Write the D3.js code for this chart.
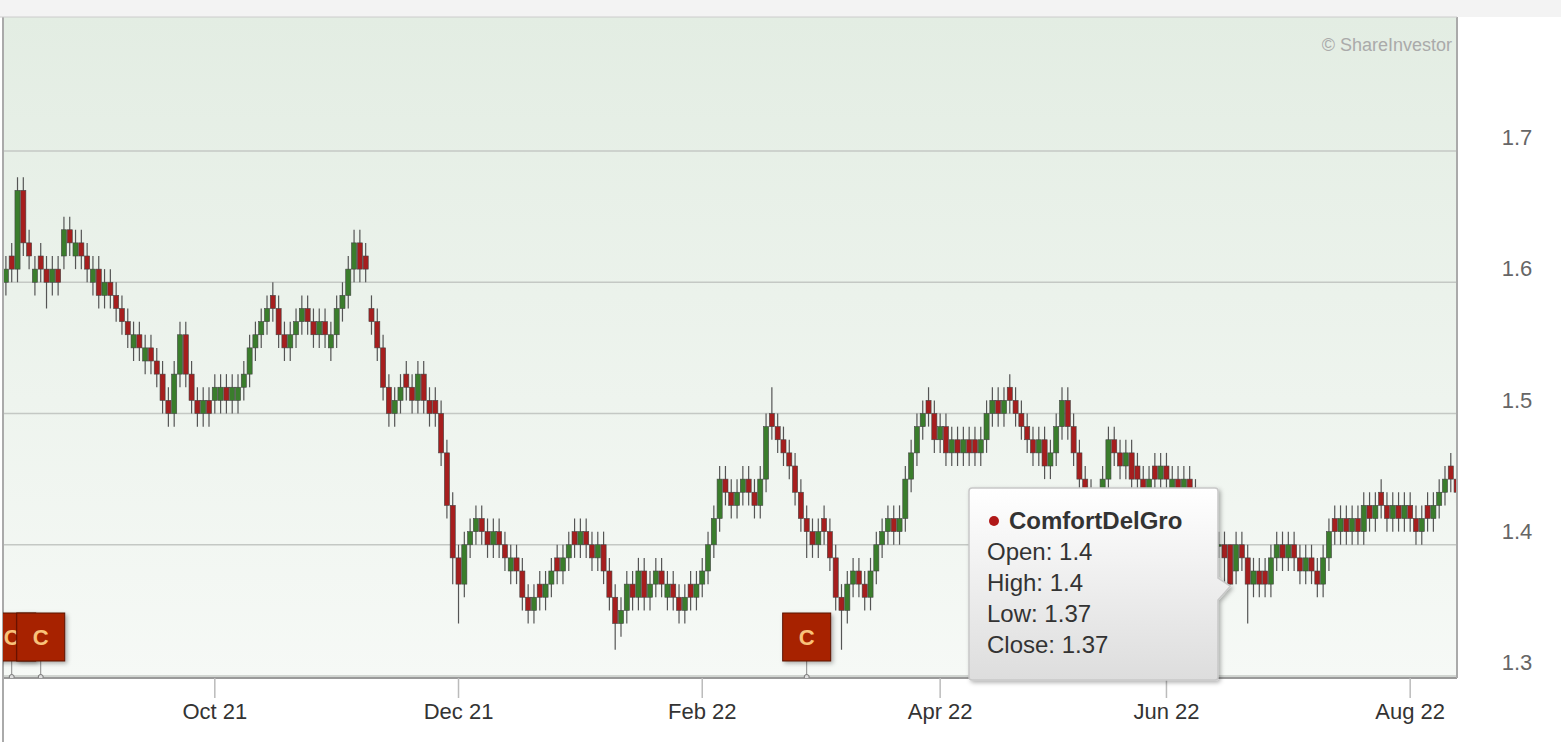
<!DOCTYPE html>
<html><head><meta charset="utf-8">
<script src="https://cdn.jsdelivr.net/npm/d3@7"></script>
<style>body{margin:0;background:#fff;}svg{display:block;font-family:"Liberation Sans",Arial,sans-serif;}</style>
</head><body><svg id="c" width="1561" height="742"></svg>
<script>
const opens=[1.60,1.62,1.61,1.67,1.63,1.60,1.62,1.61,1.60,1.61,1.62,1.64,1.62,1.63,1.62,1.60,1.61,1.59,1.60,1.59,1.58,1.57,1.55,1.56,1.54,1.55,1.54,1.53,1.51,1.50,1.53,1.56,1.53,1.51,1.50,1.51,1.51,1.51,1.52,1.51,1.51,1.52,1.53,1.55,1.56,1.57,1.59,1.58,1.56,1.55,1.56,1.57,1.58,1.57,1.56,1.57,1.55,1.56,1.58,1.59,1.61,1.63,1.62,1.58,1.57,1.55,1.52,1.50,1.51,1.53,1.52,1.51,1.53,1.51,1.51,1.50,1.47,1.43,1.39,1.37,1.40,1.41,1.42,1.41,1.40,1.41,1.40,1.38,1.39,1.38,1.36,1.35,1.37,1.36,1.37,1.39,1.38,1.39,1.41,1.40,1.41,1.40,1.39,1.40,1.38,1.36,1.34,1.35,1.37,1.36,1.38,1.36,1.37,1.38,1.36,1.37,1.36,1.35,1.37,1.36,1.37,1.38,1.40,1.42,1.45,1.44,1.43,1.44,1.45,1.44,1.43,1.45,1.50,1.49,1.48,1.47,1.46,1.44,1.42,1.41,1.40,1.42,1.41,1.39,1.36,1.35,1.37,1.38,1.37,1.36,1.38,1.40,1.41,1.42,1.41,1.42,1.45,1.47,1.49,1.51,1.50,1.48,1.49,1.47,1.48,1.47,1.48,1.48,1.47,1.48,1.50,1.51,1.50,1.52,1.51,1.50,1.49,1.48,1.47,1.48,1.46,1.47,1.49,1.51,1.49,1.47,1.45,1.44,1.43,1.42,1.45,1.48,1.47,1.46,1.47,1.46,1.45,1.44,1.46,1.45,1.46,1.44,1.45,1.44,1.45,1.44,1.43,1.42,1.41,1.40,1.40,1.40,1.38,1.40,1.39,1.37,1.38,1.38,1.37,1.39,1.40,1.39,1.40,1.39,1.38,1.39,1.38,1.37,1.39,1.42,1.41,1.42,1.41,1.42,1.41,1.43,1.42,1.44,1.43,1.42,1.43,1.42,1.43,1.42,1.41,1.43,1.42,1.43,1.44,1.46,1.45];
const highs=[1.62,1.63,1.68,1.68,1.64,1.62,1.63,1.62,1.62,1.62,1.65,1.65,1.64,1.64,1.63,1.62,1.62,1.61,1.61,1.60,1.59,1.58,1.57,1.57,1.56,1.56,1.55,1.54,1.52,1.54,1.57,1.57,1.54,1.52,1.52,1.52,1.53,1.53,1.53,1.53,1.53,1.54,1.56,1.57,1.58,1.59,1.60,1.59,1.57,1.57,1.58,1.59,1.59,1.58,1.58,1.58,1.57,1.59,1.60,1.62,1.64,1.64,1.63,1.59,1.58,1.56,1.53,1.52,1.53,1.54,1.53,1.54,1.54,1.52,1.52,1.51,1.48,1.44,1.40,1.41,1.42,1.43,1.43,1.42,1.42,1.42,1.41,1.40,1.40,1.39,1.37,1.37,1.38,1.38,1.39,1.40,1.40,1.41,1.42,1.42,1.42,1.41,1.41,1.41,1.39,1.37,1.36,1.38,1.38,1.39,1.39,1.38,1.39,1.39,1.38,1.38,1.37,1.37,1.38,1.38,1.39,1.41,1.43,1.46,1.46,1.45,1.45,1.46,1.46,1.45,1.46,1.50,1.52,1.50,1.49,1.48,1.47,1.45,1.43,1.42,1.42,1.43,1.42,1.40,1.37,1.38,1.39,1.39,1.38,1.39,1.41,1.42,1.43,1.43,1.43,1.46,1.48,1.50,1.51,1.52,1.51,1.50,1.50,1.49,1.49,1.49,1.49,1.49,1.49,1.51,1.52,1.52,1.52,1.53,1.52,1.51,1.50,1.49,1.49,1.49,1.48,1.50,1.52,1.52,1.50,1.48,1.46,1.45,1.44,1.46,1.49,1.49,1.48,1.48,1.48,1.47,1.46,1.46,1.47,1.47,1.47,1.46,1.46,1.46,1.46,1.45,1.44,1.43,1.42,1.41,1.41,1.40,1.41,1.41,1.40,1.39,1.39,1.39,1.40,1.41,1.41,1.41,1.41,1.40,1.40,1.40,1.39,1.40,1.42,1.43,1.43,1.43,1.43,1.43,1.44,1.44,1.44,1.45,1.44,1.44,1.44,1.44,1.44,1.43,1.43,1.44,1.44,1.45,1.46,1.47,1.46];
const lows=[1.59,1.60,1.60,1.62,1.61,1.59,1.60,1.58,1.59,1.59,1.61,1.62,1.61,1.61,1.60,1.59,1.58,1.58,1.58,1.57,1.56,1.55,1.54,1.54,1.53,1.53,1.52,1.50,1.49,1.49,1.52,1.52,1.50,1.49,1.49,1.49,1.50,1.50,1.50,1.50,1.50,1.51,1.52,1.54,1.55,1.56,1.57,1.55,1.54,1.54,1.55,1.56,1.56,1.55,1.55,1.55,1.54,1.55,1.57,1.58,1.60,1.60,1.60,1.56,1.54,1.51,1.49,1.49,1.50,1.51,1.50,1.50,1.50,1.49,1.49,1.46,1.42,1.37,1.34,1.36,1.39,1.40,1.40,1.39,1.39,1.39,1.38,1.37,1.37,1.35,1.34,1.34,1.35,1.35,1.36,1.37,1.37,1.38,1.39,1.39,1.39,1.38,1.38,1.37,1.35,1.32,1.33,1.34,1.35,1.35,1.35,1.35,1.36,1.36,1.35,1.35,1.34,1.34,1.35,1.35,1.36,1.37,1.39,1.41,1.43,1.42,1.42,1.43,1.43,1.42,1.42,1.44,1.48,1.47,1.46,1.45,1.43,1.41,1.39,1.39,1.39,1.40,1.38,1.35,1.32,1.34,1.36,1.36,1.35,1.35,1.37,1.39,1.40,1.40,1.40,1.41,1.44,1.46,1.48,1.49,1.47,1.47,1.46,1.46,1.46,1.46,1.46,1.46,1.46,1.47,1.49,1.49,1.49,1.50,1.49,1.48,1.47,1.46,1.46,1.45,1.45,1.46,1.48,1.48,1.46,1.44,1.43,1.42,1.41,1.41,1.44,1.46,1.45,1.45,1.44,1.44,1.43,1.43,1.44,1.44,1.44,1.43,1.43,1.43,1.43,1.42,1.41,1.40,1.39,1.39,1.37,1.37,1.37,1.38,1.34,1.36,1.36,1.36,1.36,1.38,1.38,1.38,1.38,1.37,1.37,1.37,1.36,1.36,1.38,1.40,1.40,1.40,1.40,1.40,1.40,1.41,1.41,1.42,1.41,1.41,1.41,1.41,1.41,1.40,1.40,1.41,1.41,1.42,1.43,1.44,1.43];
const closes=[1.61,1.61,1.67,1.63,1.62,1.61,1.61,1.60,1.61,1.60,1.64,1.63,1.63,1.62,1.61,1.61,1.59,1.60,1.59,1.58,1.57,1.56,1.56,1.55,1.55,1.54,1.53,1.51,1.50,1.53,1.56,1.53,1.51,1.50,1.51,1.50,1.52,1.52,1.51,1.52,1.52,1.53,1.55,1.56,1.57,1.58,1.58,1.56,1.55,1.56,1.57,1.58,1.57,1.56,1.57,1.56,1.56,1.58,1.59,1.61,1.63,1.61,1.61,1.57,1.55,1.52,1.50,1.51,1.52,1.52,1.51,1.53,1.51,1.50,1.50,1.47,1.43,1.39,1.37,1.40,1.41,1.42,1.41,1.40,1.41,1.40,1.39,1.39,1.38,1.36,1.35,1.36,1.36,1.37,1.38,1.38,1.39,1.40,1.40,1.41,1.40,1.39,1.40,1.38,1.36,1.34,1.35,1.37,1.36,1.38,1.36,1.37,1.38,1.37,1.37,1.36,1.35,1.36,1.36,1.37,1.38,1.40,1.42,1.45,1.44,1.43,1.44,1.45,1.44,1.43,1.45,1.49,1.49,1.48,1.47,1.46,1.44,1.42,1.41,1.40,1.41,1.41,1.39,1.36,1.35,1.37,1.38,1.37,1.36,1.38,1.40,1.41,1.42,1.41,1.42,1.45,1.47,1.49,1.50,1.50,1.48,1.49,1.47,1.48,1.47,1.48,1.47,1.47,1.48,1.50,1.51,1.50,1.51,1.51,1.50,1.49,1.48,1.47,1.48,1.46,1.47,1.49,1.51,1.49,1.47,1.45,1.44,1.43,1.42,1.45,1.48,1.47,1.46,1.47,1.45,1.45,1.44,1.45,1.45,1.46,1.45,1.45,1.44,1.45,1.44,1.43,1.42,1.41,1.40,1.40,1.39,1.37,1.40,1.39,1.37,1.38,1.37,1.37,1.39,1.40,1.39,1.40,1.39,1.38,1.39,1.38,1.37,1.39,1.41,1.41,1.42,1.41,1.42,1.41,1.43,1.42,1.43,1.43,1.42,1.43,1.42,1.43,1.42,1.41,1.42,1.42,1.43,1.44,1.45,1.45,1.44];
const holidays=["2021-11-04","2021-12-27","2022-01-31","2022-02-01","2022-02-02","2022-04-15","2022-05-02","2022-05-03","2022-05-16","2022-07-11","2022-08-09"];
const startDate="2021-08-12";
const yTicks=[1.3,1.4,1.5,1.6,1.7];
const monthTicks=["2021-10","2021-12","2022-02","2022-04","2022-06","2022-08"];
const monthLabels=["Oct 21","Dec 21","Feb 22","Apr 22","Jun 22","Aug 22"];
const flagIdx=[1,6,138];
const tipIdx=211;
const seriesName="ComfortDelGro";

// trading dates
const fmt=d3.timeFormat("%Y-%m-%d");
const dates=[];let d=new Date(startDate+"T12:00:00");
while(dates.length<closes.length){const w=d.getDay();if(w>0&&w<6&&!holidays.includes(fmt(d)))dates.push(fmt(d));d=d3.timeDay.offset(d,1);}
const data=dates.map((dt,i)=>({dt,i,o:opens[i],h:highs[i],l:lows[i],c:closes[i]}));
data[tipIdx].o=1.40;data[tipIdx].h=1.40;data[tipIdx].l=1.37;data[tipIdx].c=1.37;

const svg=d3.select("#c");
const L=3,R=1457,T=17,B=678;
const x=d3.scaleBand().domain(dates).range([L,L+dates.length*5.8]).paddingInner(0.12);
const y=d3.scaleLinear().domain([1.3,1.7]).range([676,151]);
const defs=svg.append("defs");
const g1=defs.append("linearGradient").attr("id","bg").attr("x1",0).attr("x2",0).attr("y1",0).attr("y2",1);
g1.append("stop").attr("offset",0).attr("stop-color","#e3ede3");g1.append("stop").attr("offset",1).attr("stop-color","#f6f9f6");
const g2=defs.append("linearGradient").attr("id","tip").attr("x1",0).attr("x2",0).attr("y1",0).attr("y2",1);
g2.append("stop").attr("offset",0).attr("stop-color","#ffffff");g2.append("stop").attr("offset",1).attr("stop-color","#dddddd");
const f=defs.append("filter").attr("id","sh").attr("x","-20%").attr("y","-20%").attr("width","150%").attr("height","150%");
f.append("feDropShadow").attr("dx",2).attr("dy",2).attr("stdDeviation",2).attr("flood-color","#000").attr("flood-opacity",0.3);
const clip=defs.append("clipPath").attr("id","pc");clip.append("rect").attr("x",L).attr("y",T).attr("width",R-L).attr("height",B-T);

svg.append("rect").attr("x",0).attr("y",0).attr("width",1561).attr("height",742).attr("fill","#fff");
svg.append("rect").attr("x",0).attr("y",0).attr("width",1561).attr("height",T).attr("fill","#f3f3f3");
svg.append("rect").attr("x",L).attr("y",T).attr("width",R-L).attr("height",B-T).attr("fill","url(#bg)");
svg.append("g").selectAll("line").data(yTicks).join("line").attr("x1",L).attr("x2",R).attr("y1",d=>y(d)).attr("y2",d=>y(d)).attr("stroke","#c4c8c4").attr("stroke-width",1.5);
svg.append("g").selectAll("text").data(yTicks).join("text").attr("x",1517).attr("y",d=>y(d)-6).attr("text-anchor","middle").attr("font-size",22).attr("fill","#666").text(d=>d.toFixed(1));
svg.append("text").attr("x",1452).attr("y",51).attr("text-anchor","end").attr("font-size",18).attr("fill","#aaa").text("© ShareInvestor");

const plot=svg.append("g").attr("clip-path","url(#pc)");
const bw=x.bandwidth(),cx=d=>x(d.dt)+x.step()/2;
const cg=plot.selectAll("g.c").data(data).join("g");
cg.append("line").attr("x1",cx).attr("x2",cx).attr("y1",d=>y(d.h)).attr("y2",d=>y(d.l)).attr("stroke","#555").attr("stroke-width",1.2);
cg.append("rect").attr("x",d=>cx(d)-bw/2).attr("width",bw).attr("y",d=>y(Math.max(d.o,d.c))).attr("height",d=>Math.max(1.5,Math.abs(y(d.o)-y(d.c))))
 .attr("fill",d=>d.c>=d.o?"#3a7d2c":"#a61e1e").attr("stroke","#444").attr("stroke-width",0.6);

// axes
svg.append("line").attr("x1",L).attr("x2",R).attr("y1",B).attr("y2",B).attr("stroke","#999").attr("stroke-width",2);
svg.append("line").attr("x1",L).attr("x2",L).attr("y1",T).attr("y2",742).attr("stroke","#aaa").attr("stroke-width",2);
svg.append("line").attr("x1",R).attr("x2",R).attr("y1",T).attr("y2",B).attr("stroke","#aaa").attr("stroke-width",2);
svg.append("line").attr("x1",0).attr("x2",R).attr("y1",T).attr("y2",T).attr("stroke","#ccc").attr("stroke-width",1);
const mt=monthTicks.map((m,k)=>({d:dates.find(s=>s.startsWith(m)),lab:monthLabels[k]}));
const xa=svg.append("g");
xa.selectAll("line").data(mt).join("line").attr("x1",d=>x(d.d)+x.step()/2).attr("x2",d=>x(d.d)+x.step()/2).attr("y1",B).attr("y2",698).attr("stroke","#bbb").attr("stroke-width",1.5);
xa.selectAll("text").data(mt).join("text").attr("x",d=>x(d.d)+x.step()/2).attr("y",719).attr("text-anchor","middle").attr("font-size",22).attr("fill","#333").text(d=>d.lab);

// flags
const fg=svg.append("g").attr("clip-path","url(#pc)");
flagIdx.forEach(i=>{const px=cx(data[i]);const g=fg.append("g");
 g.append("line").attr("x1",px).attr("x2",px).attr("y1",661).attr("y2",677).attr("stroke","#888");
 g.append("circle").attr("cx",px).attr("cy",677).attr("r",2.5).attr("fill","#ddd").attr("stroke","#777");
 g.append("rect").attr("x",px-24).attr("y",613).attr("width",48).attr("height",48).attr("fill","#a72403").attr("stroke","#5a1200").attr("filter","url(#sh)");
 g.append("text").attr("x",px).attr("y",645).attr("text-anchor","middle").attr("font-size",22).attr("font-weight","bold").attr("fill","#f9c27a").text("C");});

// tooltip
const td=data[tipIdx],tx=cx(td);
const tg=svg.append("g").attr("filter","url(#sh)");
tg.append("path").attr("d",`M972,488 H1215 Q1218,488 1218,491 V578 L${tx},${y(td.l)+2} L1218,600 V677 Q1218,680 1215,680 H972 Q969,680 969,677 V491 Q969,488 972,488 Z`)
 .attr("fill","url(#tip)").attr("stroke","#c8c8c8").attr("stroke-width",1.5);
svg.append("circle").attr("cx",994).attr("cy",521).attr("r",5).attr("fill","#b01818");
svg.append("text").attr("x",1009).attr("y",529).attr("font-size",24).attr("font-weight","bold").attr("fill","#333").text(seriesName);
const lines=[["Open",td.o],["High",td.h],["Low",td.l],["Close",td.c]];
svg.append("g").selectAll("text").data(lines).join("text").attr("x",987).attr("y",(d,k)=>560+k*31).attr("font-size",24).attr("fill","#333").text(d=>`${d[0]}: ${+d[1]}`);
</script></body></html>
